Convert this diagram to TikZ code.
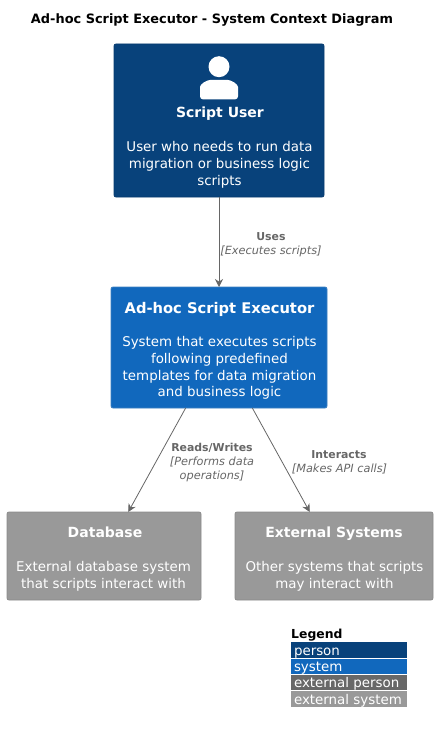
\documentclass[tikz,border=0pt]{standalone}
\usepackage{fontspec}
\setmainfont{DejaVu Sans}
\usetikzlibrary{arrows.meta}
\definecolor{personc}{HTML}{08427B}
\definecolor{personb}{HTML}{073B6F}
\definecolor{systemc}{HTML}{1168BD}
\definecolor{systemb}{HTML}{3C7FC0}
\definecolor{extc}{HTML}{999999}
\definecolor{extb}{HTML}{8A8A8A}
\definecolor{extpc}{HTML}{686868}
\definecolor{linec}{HTML}{666666}
\tikzset{
 box/.style={draw=#1,fill=#1,rounded corners=2pt,line width=0.8pt,inner sep=0pt,outer sep=0pt},
 ttl/.style={text=white,font=\bfseries\fontsize{14.7}{17}\selectfont,align=center,inner sep=0pt,anchor=base},
 ttlsmall/.style={ttl,font=\bfseries\fontsize{14}{17}\selectfont},
 dsc/.style={text=white,font=\fontsize{13.4}{16.7}\selectfont,align=center,inner sep=0pt,anchor=base},
 rel/.style={draw=linec,line width=0.8pt,-{Stealth[length=8pt,width=8pt]}},
 lblb/.style={text=linec,font=\bfseries\fontsize{10.9}{14}\selectfont,align=center,inner sep=0pt,anchor=base},
 lbli/.style={text=linec,font=\itshape\fontsize{11.3}{14}\selectfont,align=center,inner sep=0pt,anchor=base},
 leg/.style={inner sep=0pt,outer sep=0pt,anchor=base west,text=white,font=\fontsize{13.4}{14}\selectfont},
}
\begin{document}
\begin{tikzpicture}[x=1pt,y=-1pt]
\useasboundingbox (0,0) rectangle (437,733);
\node[font=\bfseries\fontsize{12.9}{15}\selectfont,inner sep=0pt,anchor=base] (title) at (212,24) {Ad-hoc Script Executor - System Context Diagram};
% boxes
\node[box=personc,draw=personb,minimum width=210pt,minimum height=153pt] (user) at (219,120.5) {};
\node[box=systemc,draw=systemb,minimum width=216pt,minimum height=121pt] (sys) at (219,347.5) {};
\node[box=extc,draw=extb,minimum width=194pt,minimum height=88pt] (db) at (104,556) {};
\node[box=extc,draw=extb,minimum width=198pt,minimum height=88pt] (ext) at (334,556) {};
% person icon
\fill[white] (219,66.7) circle (10.5);
\fill[white,rounded corners=3pt] (200,99.4) -- (200,90) .. controls (200,84) and (207,80) .. (213,80) -- (225,80) .. controls (231,80) and (238,84) .. (238,90) -- (238,99.4) -- cycle;
% box text
\node[ttlsmall] (userT) at (220,117.7) {Script User};
\node[dsc] (userD) at (219.5,185) {User who needs to run data\\migration or business logic\\scripts};
\node[ttl] (sysT) at (219.5,313.3) {Ad-hoc Script Executor};
\node[dsc] (sysD) at (219.5,396.8) {System that executes scripts\\following predefined\\templates for data migration\\and business logic};
\node[ttlsmall] (dbT) at (105,537.7) {Database};
\node[dsc] (dbD) at (103.5,588) {External database system\\that scripts interact with};
\node[ttlsmall] (extT) at (334,537.7) {External Systems};
\node[dsc] (extD) at (334.5,588) {Other systems that scripts\\may interact with};
% connectors
\draw[rel] (user) -- (sys);
\draw[rel] (sys) -- (db);
\draw[rel] (sys) -- (ext);
% labels
\node[lblb] (l1a) at (271,240) {Uses};
\node[lbli] (l1b) at (271,254) {[Executes scripts]};
\node[lblb] (l2a) at (212,451) {Reads/Writes};
\node[lbli] (l2b) at (212,479) {[Performs data\\operations]};
\node[lblb] (l3a) at (339,458) {Interacts};
\node[lbli] (l3b) at (339.5,472) {[Makes API calls]};
% legend
\node[font=\bfseries\fontsize{12.4}{14}\selectfont,inner sep=0pt,anchor=base west] (legT) at (291,638) {Legend};
\fill[personc] (291,642) rectangle (407,657.5);
\fill[systemc] (291,658.5) rectangle (407,674);
\fill[extpc] (291,675) rectangle (407,690);
\fill[extc] (291,691) rectangle (407,707);
\node[leg] (lg1) at (294,655) {person};
\node[leg] (lg2) at (294,671) {system};
\node[leg] (lg3) at (294,687.3) {external person};
\node[leg] (lg4) at (294,704) {external system};
\end{tikzpicture}
\end{document}
